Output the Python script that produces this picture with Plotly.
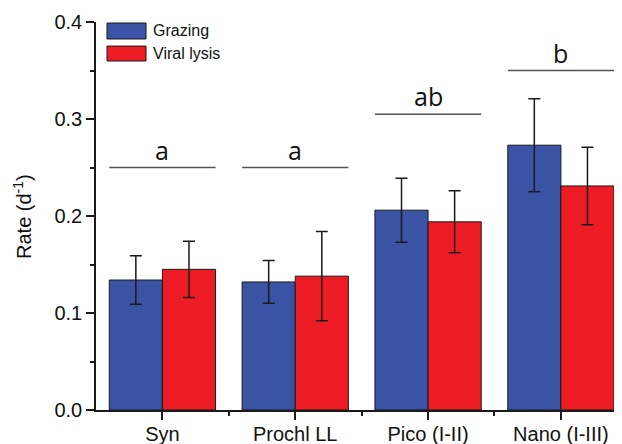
import plotly.graph_objects as go

categories = ["Syn", "Prochl LL", "Pico (I-II)", "Nano (I-III)"]
grazing = [0.134, 0.132, 0.206, 0.273]
grazing_err = [0.025, 0.022, 0.033, 0.048]
viral = [0.145, 0.138, 0.194, 0.231]
viral_err = [0.029, 0.046, 0.032, 0.040]
sig_letters = ["a", "a", "ab", "b"]
sig_y = [0.25, 0.25, 0.305, 0.35]

blue = "#3A53A4"
red = "#ED1C24"
xpos = list(range(len(categories)))

fig = go.Figure()
fig.add_trace(go.Bar(
    x=xpos, y=grazing, name="Grazing", marker=dict(color=blue, line=dict(color="#1a1a1a", width=1)),
    error_y=dict(type="data", array=grazing_err, color="#1a1a1a", thickness=1.5, width=6),
))
fig.add_trace(go.Bar(
    x=xpos, y=viral, name="Viral lysis", marker=dict(color=red, line=dict(color="#1a1a1a", width=1)),
    error_y=dict(type="data", array=viral_err, color="#1a1a1a", thickness=1.5, width=6),
))

shapes = []
annotations = []
for i, (lab, yv) in enumerate(zip(sig_letters, sig_y)):
    shapes.append(dict(type="line", xref="x", yref="y", x0=i - 0.4, x1=i + 0.4, y0=yv, y1=yv,
                       line=dict(color="#555555", width=1.5)))
    annotations.append(dict(x=i, y=yv, xref="x", yref="y", text=lab, showarrow=False,
                            yanchor="bottom", yshift=-1,
                            font=dict(family="Open Sans", size=25, color="#111111")))

# legend (drawn manually to match wide swatches)
for name, col, y0, y1, yt in [("Grazing", blue, 0.9974, 0.9562, 0.977),
                              ("Viral lysis", red, 0.938, 0.8995, 0.919)]:
    shapes.append(dict(type="rect", xref="paper", yref="paper", x0=0.0209, x1=0.0951, y0=y1, y1=y0,
                       fillcolor=col, line=dict(color="#1a1a1a", width=1)))
    annotations.append(dict(x=0.1045, y=yt, xref="paper", yref="paper", text=name, showarrow=False,
                            xanchor="left", yanchor="middle",
                            font=dict(family="Liberation Sans, Arial", size=16, color="#111111")))

# y-axis title
annotations.append(dict(x=-0.1407, y=0.5, xref="paper", yref="paper", text="Rate (d<sup>-1</sup>)",
                        showarrow=False, textangle=-90, xanchor="center", yanchor="middle",
                        font=dict(family="Liberation Sans, Arial", size=20, color="#111111")))

fig.update_layout(
    width=622, height=444,
    margin=dict(l=88, r=8, t=14, b=42),
    paper_bgcolor="white", plot_bgcolor="white",
    barmode="group", bargap=0.2, bargroupgap=0,
    showlegend=False,
    shapes=shapes, annotations=annotations,
    font=dict(family="Liberation Sans, Arial", color="#111111"),
    xaxis=dict(
        range=[-0.5, 3.46], tickmode="array", tickvals=xpos, ticktext=categories,
        showline=True, linecolor="#1a1a1a", linewidth=1.5, showgrid=False, zeroline=False,
        ticks="outside", ticklen=8, tickwidth=1.5, tickcolor="#1a1a1a",
        tickfont=dict(size=20), ticklabelstandoff=-3, automargin=False,
        minor=dict(tickmode="array", tickvals=[0.5, 1.5, 2.5], ticks="outside", ticklen=4,
                   tickwidth=1.5, tickcolor="#1a1a1a"),
    ),
    yaxis=dict(
        range=[0, 0.4], tickvals=[0, 0.1, 0.2, 0.3, 0.4], ticktext=["0.0", "0.1", "0.2", "0.3", "0.4"],
        showline=True, linecolor="#1a1a1a", linewidth=1.5, showgrid=False, zeroline=False,
        ticks="outside", ticklen=8, tickwidth=1.5, tickcolor="#1a1a1a",
        tickfont=dict(size=20), automargin=False,
        minor=dict(tickmode="array", tickvals=[0.05, 0.15, 0.25, 0.35], ticks="outside", ticklen=4,
                   tickwidth=1.5, tickcolor="#1a1a1a"),
    ),
)

fig.write_html("out.html")
